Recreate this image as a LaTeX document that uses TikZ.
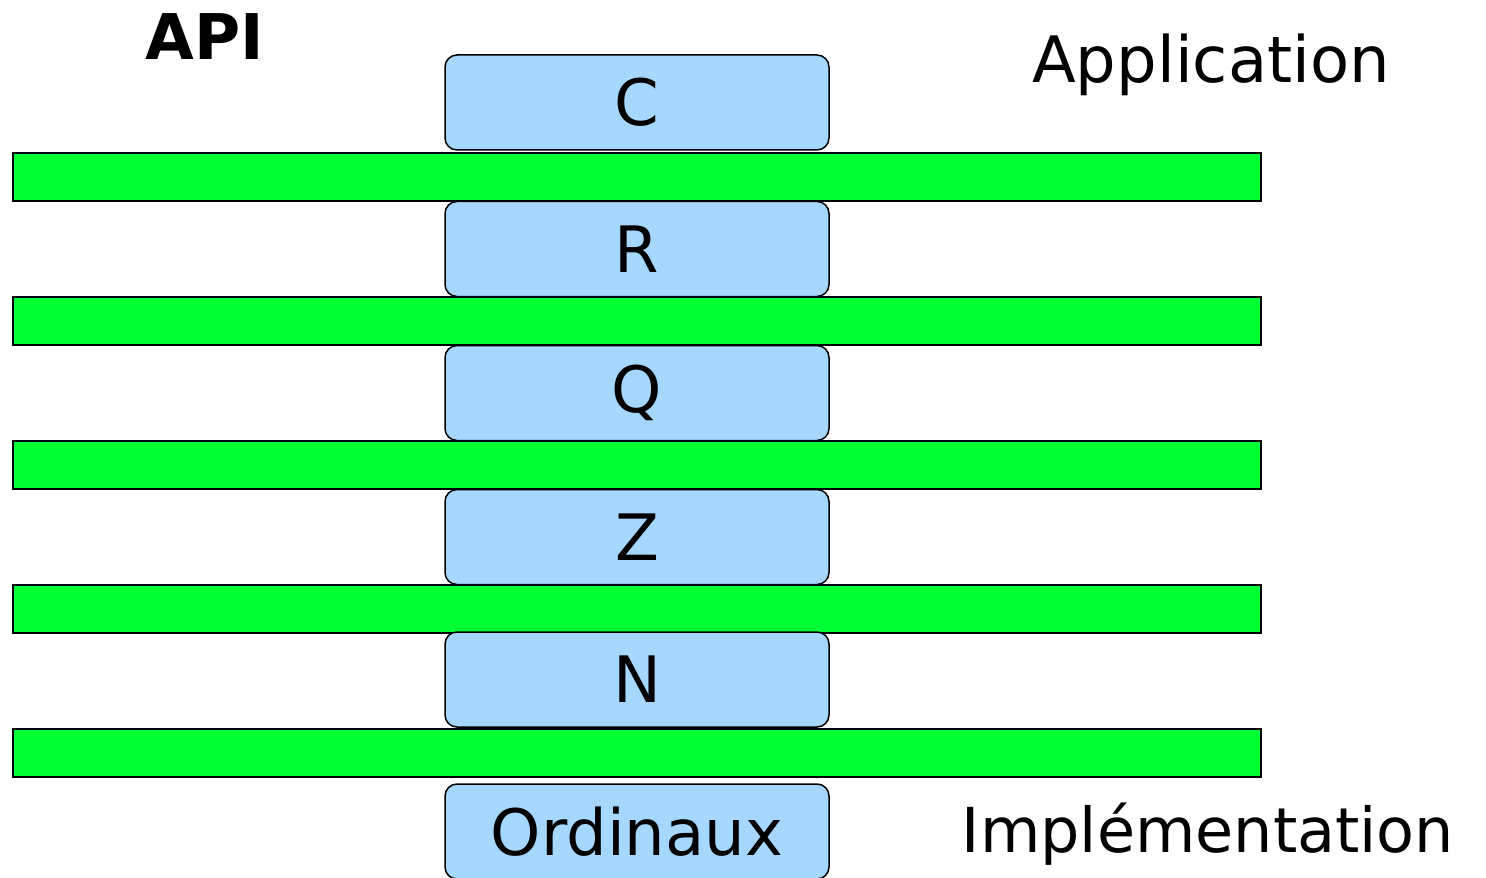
\documentclass[tikz,border=0pt]{standalone}
\usepackage{fontspec}
\setmainfont{DejaVu Sans}

\definecolor{bargreen}{RGB}{0,255,51}
\definecolor{boxblue}{RGB}{166,216,255}

\tikzset{
  layer/.style={draw=black, line width=1pt, fill=bargreen},
  lib/.style={draw=black, line width=0.75pt, fill=boxblue, rounded corners=6pt,
    minimum width=192pt, minimum height=47.5pt, inner sep=0pt,
    font=\fontsize{32}{38}\selectfont},
  lbl/.style={anchor=base, font=\fontsize{32}{38}\selectfont}
}

\begin{document}
\begin{tikzpicture}[x=0.5pt, y=-0.5pt]
	\clip (0,0) rectangle (1486,877);
	\useasboundingbox (0,0) rectangle (1486,877);

	% green layers
	\foreach \y in {153,297,441,585,729}
		\draw[layer] (12.5,\y) rectangle (1261,\y+48);

	% blue boxes
	\node[lib] (c) at (637,102.5) {\raisebox{-1pt}{C}};
	\node[lib] (r) at (637,249) {\raisebox{-1pt}{R}};
	\node[lib] (q) at (637,393) {\raisebox{-1pt}{Q}};
	\node[lib] (z) at (637,537) {\raisebox{-1pt}{Z}};
	\node[lib] (n) at (637,679.5) {\raisebox{-1pt}{N}};
	\node[lib] (ord) at (637,831.5) {\raisebox{-1pt}{Ordinaux}};

	% side labels
	\node[lbl, font=\bfseries\fontsize{31.5}{38}\selectfont] (api) at (205,60) {API};
	\node[lbl] (app) at (1211,83) {Application};
	\node[lbl, font=\fontsize{31}{38}\selectfont] (impl) at (1208,852) {Implémentation};
\end{tikzpicture}
\end{document}
